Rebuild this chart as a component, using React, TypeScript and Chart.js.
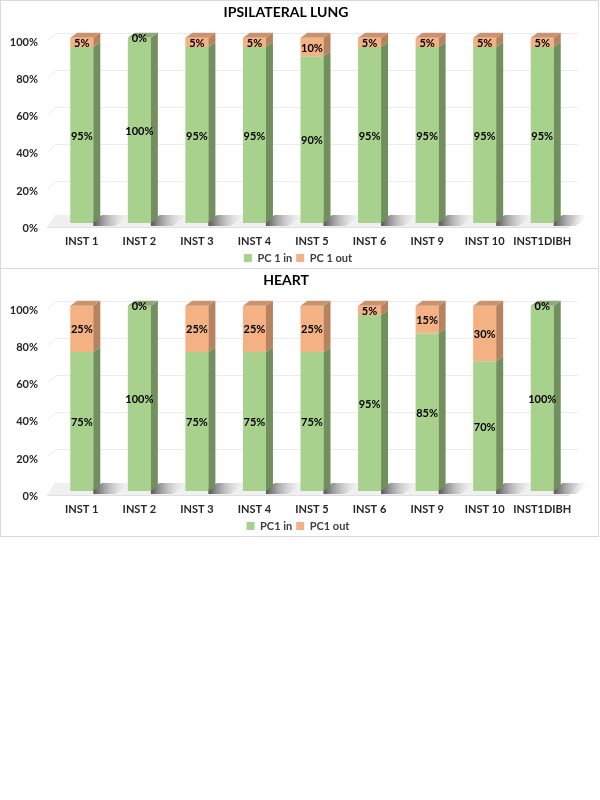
import React, { useEffect, useRef } from 'react';
import { Chart, registerables } from 'chart.js';

Chart.register(...registerables);

const categories = ['INST 1', 'INST 2', 'INST 3', 'INST 4', 'INST 5', 'INST 6', 'INST 9', 'INST 10', 'INST1DIBH'];
const lungIn = [95, 100, 95, 95, 90, 95, 95, 95, 95];
const lungOut = [5, 0, 5, 5, 10, 5, 5, 5, 5];
const heartIn = [75, 100, 75, 75, 75, 95, 85, 70, 100];
const heartOut = [25, 0, 25, 25, 25, 5, 15, 30, 0];
const yTicks = [0, 20, 40, 60, 80, 100];

const FONT = 'Lato, "Open Sans", sans-serif';
const DX = 7;
const DY = 5;

const GREEN = { front: '#A9D18E', side: '#72905E', top: '#8DAA76' };
const ORANGE = { front: '#F4B183', side: '#B7835F', top: '#C8936E' };
const PALETTES = [GREEN, ORANGE];

const legendShift = {
  id: 'legendShift',
  afterLayout(chart: any) {
    const l = chart.legend;
    if (l) {
      l.top -= 1.5;
      l.height += 1.5;
      l.left += 12;
      l.right += 12;
    }
  },
};

const threeD = {
  id: 'threeD',
  beforeDatasetsDraw(chart: any) {
    const { ctx, chartArea: a } = chart;
    const y = chart.scales.y;
    const base = y.getPixelForValue(0);
    ctx.save();
    // gridlines on back wall
    ctx.strokeStyle = '#ebebeb';
    ctx.lineWidth = 1;
    yTicks.forEach((v) => {
      if (v === 0) return;
      const yy = Math.round(y.getPixelForValue(v)) + 0.5;
      ctx.beginPath();
      ctx.moveTo(a.left - 5, yy + 2);
      ctx.lineTo(a.left + 3, yy - DY);
      ctx.lineTo(a.right + DX, yy - DY);
      ctx.stroke();
    });
    // floor
    ctx.fillStyle = '#f0f0f0';
    ctx.beginPath();
    ctx.moveTo(a.left - 6, base + 4);
    ctx.lineTo(a.right - 2, base + 4);
    ctx.lineTo(a.right + DX + 2, base - DY - 3);
    ctx.lineTo(a.left + 2, base - DY - 3);
    ctx.closePath();
    ctx.fill();
    ctx.strokeStyle = '#e0e0e0';
    ctx.beginPath();
    ctx.moveTo(a.left - 6, base + 4.5);
    ctx.lineTo(a.right - 2, base + 4.5);
    ctx.stroke();
    // shadows
    const meta = chart.getDatasetMeta(0);
    meta.data.forEach((el: any) => {
      const p = el.getProps(['x', 'width'], true);
      const right = p.x + p.width / 2;
      const g = ctx.createLinearGradient(right, 0, right + 34, 0);
      g.addColorStop(0, 'rgba(60,60,60,0.85)');
      g.addColorStop(1, 'rgba(200,200,200,0)');
      ctx.fillStyle = g;
      ctx.beginPath();
      ctx.moveTo(right, base + 3);
      ctx.lineTo(right, base - 2);
      ctx.lineTo(right + DX + 2, base - DY - 3);
      ctx.lineTo(right + DX + 30, base - DY - 3);
      ctx.lineTo(right + 22, base + 3);
      ctx.closePath();
      ctx.fill();
    });
    ctx.restore();
  },
  afterDatasetsDraw(chart: any) {
    const { ctx } = chart;
    const n = chart.data.labels.length;
    ctx.save();
    for (let i = 0; i < n; i++) {
      let topIdx = 0;
      let topY = Infinity;
      chart.data.datasets.forEach((ds: any, di: number) => {
        const el: any = chart.getDatasetMeta(di).data[i];
        const p = el.getProps(['x', 'y', 'base', 'width'], true);
        const right = p.x + p.width / 2;
        const top = Math.min(p.y, p.base);
        const bot = Math.max(p.y, p.base);
        if (ds.data[i] > 0) {
          ctx.fillStyle = PALETTES[di].side;
          ctx.beginPath();
          ctx.moveTo(right, bot);
          ctx.lineTo(right, top);
          ctx.lineTo(right + DX, top - DY);
          ctx.lineTo(right + DX, bot - DY);
          ctx.closePath();
          ctx.fill();
          if (top < topY) {
            topY = top;
            topIdx = di;
          }
        }
      });
      const el0: any = chart.getDatasetMeta(topIdx).data[i];
      const p0 = el0.getProps(['x', 'width'], true);
      const l = p0.x - p0.width / 2;
      const r = p0.x + p0.width / 2;
      ctx.fillStyle = PALETTES[topIdx].top;
      ctx.beginPath();
      ctx.moveTo(l, topY);
      ctx.lineTo(l + DX, topY - DY);
      ctx.lineTo(r + DX, topY - DY);
      ctx.lineTo(r, topY);
      ctx.closePath();
      ctx.fill();
    }
    // data labels
    ctx.font = `bold 11px ${FONT}`;
    ctx.fillStyle = '#000000';
    ctx.textAlign = 'center';
    ctx.textBaseline = 'middle';
    chart.data.datasets.forEach((ds: any, di: number) => {
      chart.getDatasetMeta(di).data.forEach((el: any, i: number) => {
        const p = el.getProps(['x', 'y', 'base'], true);
        ctx.fillText(ds.data[i] + '%', p.x, (p.y + p.base) / 2 + 1);
      });
    });
    ctx.restore();
  },
};

function StackChart(props: { title: string; inData: number[]; outData: number[]; inLabel: string; outLabel: string }) {
  const ref = useRef<HTMLCanvasElement>(null);
  useEffect(() => {
    if (!ref.current) return;
    const chart = new Chart(ref.current, {
      type: 'bar',
      data: {
        labels: categories,
        datasets: [
          { label: props.inLabel, data: props.inData, backgroundColor: GREEN.front, borderWidth: 0 },
          { label: props.outLabel, data: props.outData, backgroundColor: ORANGE.front, borderWidth: 0 },
        ],
      },
      options: {
        responsive: false,
        animation: false,
        devicePixelRatio: 1,
        layout: { padding: { left: 0, right: 27, top: 0, bottom: 0 } },
        datasets: { bar: { categoryPercentage: 1, barPercentage: 0.4 } },
        scales: {
          x: {
            stacked: true,
            grid: { display: false, drawTicks: false },
            border: { display: false },
            ticks: {
              padding: 11.5,
              autoSkip: false,
              maxRotation: 0,
              minRotation: 0,
              color: '#262626',
              font: { family: FONT, size: 11, weight: 'bold' },
            },
            afterFit: (s: any) => {
              s.height = 27;
            },
          },
          y: {
            stacked: true,
            min: 0,
            max: 100,
            grid: { display: false, drawTicks: false },
            border: { display: false },
            ticks: {
              stepSize: 20,
              padding: 15,
              labelOffset: 5,
              color: '#262626',
              font: { family: FONT, size: 11, weight: 'bold' },
              callback: (v: any) => v + '%',
            },
            afterFit: (s: any) => {
              s.width = 52;
            },
          },
        },
        plugins: {
          title: {
            display: true,
            text: props.title,
            color: '#000000',
            font: { family: FONT, size: 14, weight: 'bold' },
            padding: { top: 3, bottom: 17 },
          },
          legend: {
            position: 'bottom',
            maxHeight: 18,
            labels: {
              boxWidth: 8,
              boxHeight: 8,
              padding: 4,
              color: '#404040',
              font: { family: FONT, size: 11, weight: 'bold' },
            },
          },
          tooltip: { enabled: false },
        },
      } as any,
      plugins: [threeD, legendShift],
    });
    return () => chart.destroy();
  }, []);
  return <canvas ref={ref} width={597} height={267} style={{ display: 'block' }} />;
}

export default function App() {
  const box: React.CSSProperties = {
    border: '1px solid #d9d9d9',
    width: 597,
    height: 267,
    background: '#ffffff',
  };
  return (
    <div style={{ position: 'absolute', left: 0, top: 0, width: 599, background: '#fff' }}>
      <div style={box}>
        <StackChart title="IPSILATERAL LUNG" inData={lungIn} outData={lungOut} inLabel="PC 1 in" outLabel="PC 1 out" />
      </div>
      <div style={{ ...box, marginTop: -1 }}>
        <StackChart title="HEART" inData={heartIn} outData={heartOut} inLabel="PC1 in" outLabel="PC1 out" />
      </div>
    </div>
  );
}
